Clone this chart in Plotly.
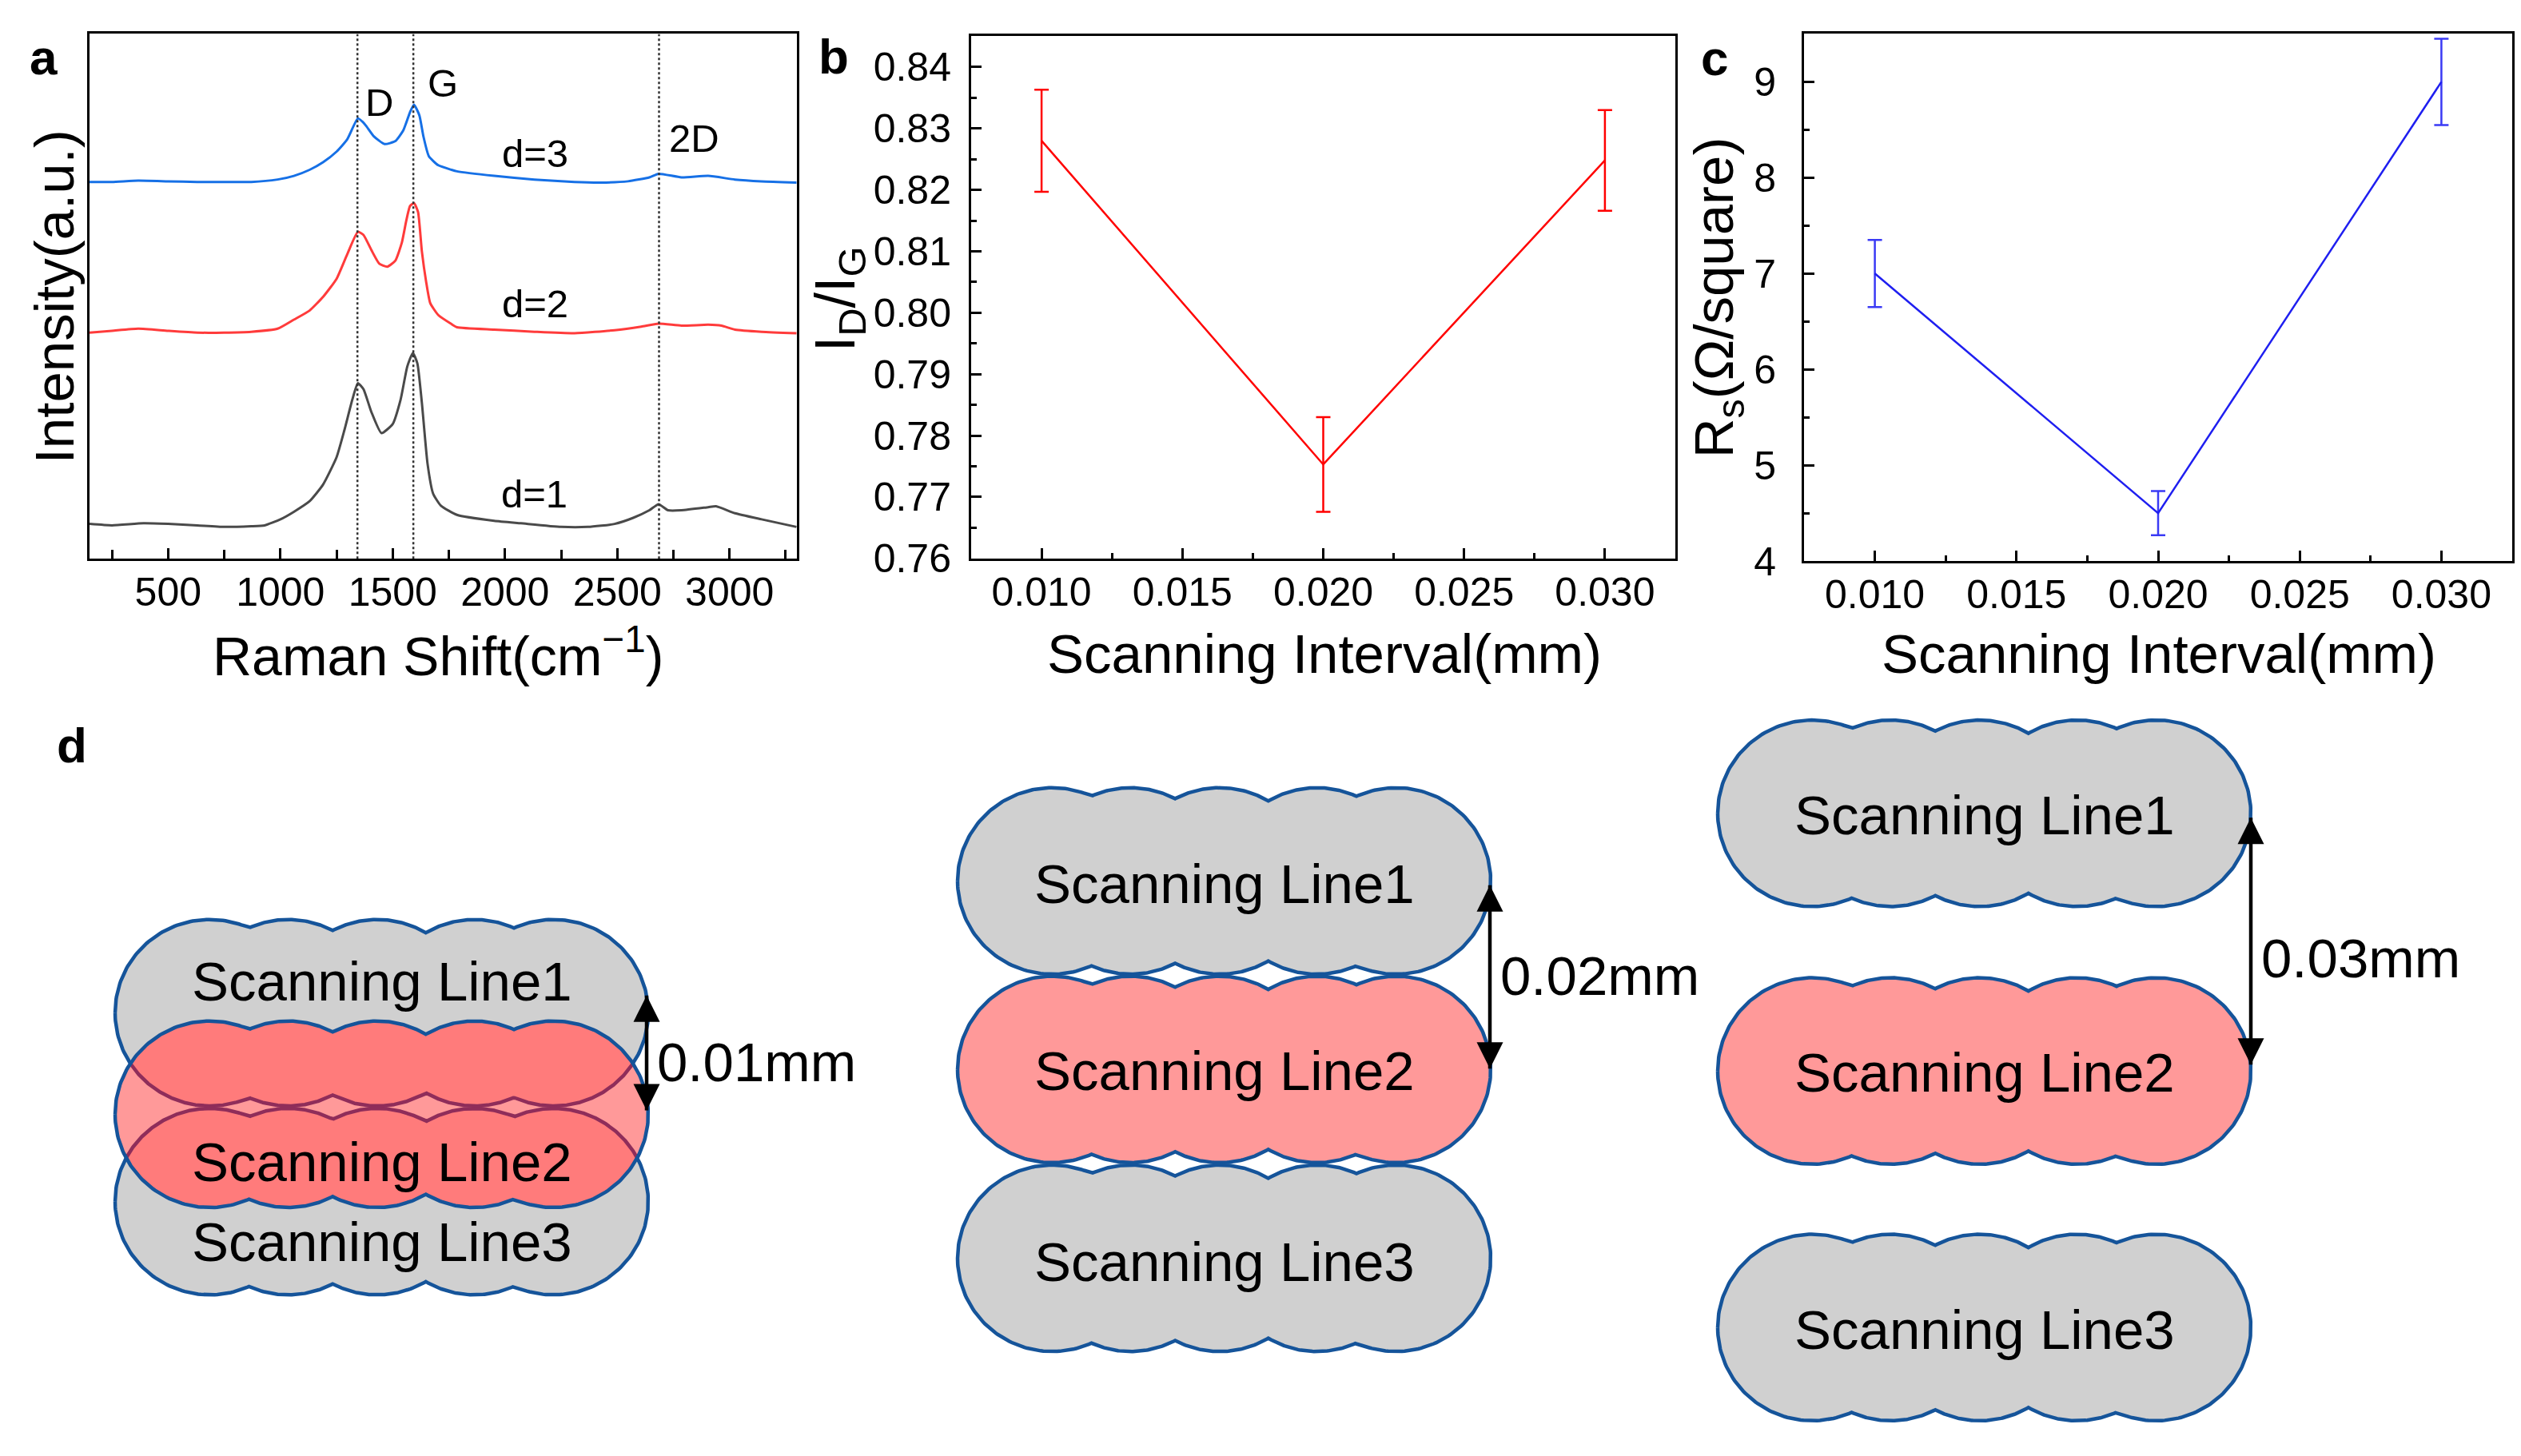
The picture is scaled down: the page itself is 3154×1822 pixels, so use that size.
import numpy as np
import plotly.graph_objects as go

W, H = 3154, 1822
FONT = "Liberation Sans, Arial, Helvetica, sans-serif"

# ---------------- data: panel a (Raman spectra, stacked, a.u.) ----------------
RAMAN_X_D1 = [150, 250, 390, 500, 630, 750, 870, 930, 1000, 1060, 1130, 1190, 1250, 1285,
              1320, 1345, 1370, 1405, 1450, 1500, 1535, 1565, 1590, 1610, 1630, 1655, 1680,
              1715, 1786, 1952, 2071, 2250, 2369, 2488, 2571, 2643, 2684, 2726, 2786, 2905,
              2940, 3024, 3143, 3298]
RAMAN_Y_D1 = [6.64, 6.36, 6.76, 6.64, 6.36, 6.07, 6.20, 6.36, 7.51, 8.95, 10.97, 14.14, 19.33,
              24.51, 30.28, 33.46, 32.31, 27.98, 23.94, 25.67, 30.28, 36.63, 39.22, 37.21,
              29.71, 18.17, 12.41, 10.10, 8.37, 7.23, 6.76, 6.07, 6.07, 6.64, 7.80, 9.24,
              10.39, 9.24, 9.24, 9.82, 9.99, 8.67, 7.51, 6.07]

RAMAN_X_D2 = [150, 250, 367, 500, 630, 750, 870, 988, 1060, 1130, 1190, 1250, 1297, 1345,
              1370, 1405, 1440, 1476, 1512, 1541, 1560, 1577, 1595, 1613, 1630, 1649, 1667,
              1703, 1762, 1786, 1952, 2131, 2310, 2488, 2607, 2684, 2786, 2905, 2964, 3024,
              3143, 3298]
RAMAN_Y_D2 = [43.09, 43.43, 43.84, 43.43, 43.09, 43.09, 43.25, 43.84, 45.56, 47.30, 49.90,
              53.34, 57.96, 62.29, 61.71, 58.83, 56.24, 55.65, 56.81, 60.27, 64.30, 67.20,
              67.77, 66.04, 58.55, 52.77, 48.74, 46.43, 44.71, 44.12, 43.66, 43.25, 42.97,
              43.55, 44.24, 44.81, 44.41, 44.59, 44.41, 43.66, 43.25, 42.97]

RAMAN_X_D3 = [150, 250, 367, 500, 630, 750, 870, 988, 1060, 1130, 1190, 1250, 1297, 1345,
              1364, 1382, 1417, 1464, 1512, 1547, 1577, 1595, 1619, 1637, 1661, 1703, 1762,
              1786, 1952, 2131, 2310, 2429, 2548, 2643, 2684, 2786, 2905, 3024, 3143, 3298]
RAMAN_Y_D3 = [71.80, 71.80, 72.04, 71.92, 71.80, 71.80, 71.80, 72.26, 72.95, 74.11, 75.55,
              77.57, 79.88, 83.91, 83.33, 82.47, 80.45, 79.01, 79.58, 81.60, 85.07, 86.51,
              84.48, 80.45, 76.70, 74.98, 74.11, 73.82, 72.95, 72.26, 71.80, 71.69, 71.92,
              72.67, 73.36, 72.67, 72.95, 72.26, 71.92, 71.69]

CURVE_COLORS = ["#4a4a4a", "#ff3b3b", "#1670e6"]
PEAK_POSITIONS = [1343, 1592, 2686]
PEAK_LABELS = ["D", "G", "2D"]
CURVE_LABELS = ["d=1", "d=2", "d=3"]

# ---------------- data: panels b and c ----------------
INTERVAL_MM = [0.010, 0.020, 0.030]
ID_IG = [0.828, 0.7753, 0.8248]
ID_IG_ERR = [0.0083, 0.0077, 0.0082]
RS = [7.0, 4.5, 9.0]
RS_ERR = [0.35, 0.23, 0.45]

# ---------------- data: panel d (schematic) ----------------
SPACING_LABELS = ["0.01mm", "0.02mm", "0.03mm"]
LINE_NAMES = ["Scanning Line1", "Scanning Line2", "Scanning Line3"]

# ---------------- layout constants (pixels) ----------------
BOX_A = (104, 989, 35, 702)      # left, right, top, bottom
BOX_B = (1207, 2088, 38, 702)
BOX_C = (2249, 3135, 35, 705)


def dx(p):
    return p / W


def dy(p):
    return 1 - p / H


fig = go.Figure()

# ---- panel a traces ----
for xs, ys, col in zip([RAMAN_X_D1, RAMAN_X_D2, RAMAN_X_D3],
                       [RAMAN_Y_D1, RAMAN_Y_D2, RAMAN_Y_D3], CURVE_COLORS):
    fig.add_trace(go.Scatter(x=xs, y=ys, mode="lines", xaxis="x", yaxis="y",
                             line=dict(color=col, width=3, shape="spline", smoothing=0.5),
                             showlegend=False, hoverinfo="skip"))

# ---- panel b ----
fig.add_trace(go.Scatter(x=INTERVAL_MM, y=ID_IG, mode="lines", xaxis="x2", yaxis="y2",
                         line=dict(color="#ff0000", width=2.5),
                         error_y=dict(type="data", array=ID_IG_ERR, visible=True,
                                      color="#ff0000", thickness=2.5, width=9),
                         showlegend=False))
# ---- panel c ----
fig.add_trace(go.Scatter(x=INTERVAL_MM, y=RS, mode="lines", xaxis="x3", yaxis="y3",
                         line=dict(color="#1f1ff0", width=2.5),
                         error_y=dict(type="data", array=RS_ERR, visible=True,
                                      color="#3a3af5", thickness=2.5, width=9),
                         showlegend=False))

# ---- panel d clouds ----
CLOUD_R = 118.5
CLOUD_SPAN = 430
CLOUD_FRACS = [0, 0.228, 0.487, 0.77, 1.0]
DIAG_LEFT = [136, 1190, 2141]
DIAG_CY = [[1279, 1408, 1519], [1111.5, 1351, 1591], [1025.5, 1353, 1679]]
TEXT_Y = [[1240, 1469, 1571], [1116, 1353, 1596], [1028, 1355, 1682]]
ARROW_X = [801, 1856, 2808]
ARROW_Y = [[1257, 1403], [1117, 1350], [1031, 1345]]
LABEL_Y = [1342, 1232, 1210]

GRAY_FILL = "#d0d0d0"
PINK_FILL = "#ff9999"
OVERLAP_FILL = "#ff7b7b"
BORDER = "#15549a"
INNER_BORDER = "#8f2d5a"
BW = 4.5


def cloud_centers(x_left):
    return [x_left + CLOUD_R + f * CLOUD_SPAN for f in CLOUD_FRACS]


def cloud_outline(x_left, cy):
    r = CLOUD_R
    centers = cloud_centers(x_left)
    bounds = [centers[0] - r] + [(centers[i] + centers[i + 1]) / 2
                                 for i in range(len(centers) - 1)] + [centers[-1] + r]
    xs, ys = [], []
    for i, c in enumerate(centers):
        tl = np.arccos(np.clip((bounds[i] - c) / r, -1, 1))
        tr = np.arccos(np.clip((bounds[i + 1] - c) / r, -1, 1))
        th = np.linspace(tl, tr, 70)
        xs += list(c + r * np.cos(th))
        ys += list(cy - r * np.sin(th))
    for i in reversed(range(len(centers))):
        c = centers[i]
        tl = np.arccos(np.clip((bounds[i] - c) / r, -1, 1))
        tr = np.arccos(np.clip((bounds[i + 1] - c) / r, -1, 1))
        th = np.linspace(tr, tl, 70)
        xs += list(c + r * np.cos(th))
        ys += list(cy + r * np.sin(th))
    xs.append(xs[0])
    ys.append(ys[0])
    return xs, ys


def half_height(x_left):
    centers = np.array(cloud_centers(x_left))
    xg = np.linspace(centers[0] - CLOUD_R, centers[-1] + CLOUD_R, 2400)
    h = np.sqrt(np.clip(CLOUD_R ** 2 - (xg[:, None] - centers[None, :]) ** 2, 0, None)).max(axis=1)
    return xg, h


def add_cloud(xs, ys, fill, line_w, line_col=BORDER):
    fig.add_trace(go.Scatter(x=xs, y=ys, mode="lines", fill="toself" if fill else None,
                             fillcolor=fill, line=dict(color=line_col, width=line_w),
                             xaxis="x4", yaxis="y4", showlegend=False, hoverinfo="skip"))


for k in range(3):
    xl = DIAG_LEFT[k]
    cy1, cy2, cy3 = DIAG_CY[k]
    # outer lines (gray)
    for cy in (cy1, cy3):
        xs, ys = cloud_outline(xl, cy)
        add_cloud(xs, ys, GRAY_FILL, BW)
    # middle line fill (pink, opaque)
    xs2, ys2 = cloud_outline(xl, cy2)
    add_cloud(xs2, ys2, PINK_FILL, 0, PINK_FILL)
    # overlap regions with the neighbouring lines
    xg, h = half_height(xl)
    for cy_up, cy_lo, edge_is_upper in ((cy1, cy2, True), (cy2, cy3, False)):
        m = 2 * h > (cy_lo - cy_up)
        if m.sum() < 2:
            continue
        xm, hm = xg[m], h[m]
        top = cy_lo - hm
        bot = cy_up + hm
        px = list(xm) + list(xm[::-1]) + [xm[0]]
        pyy = list(top) + list(bot[::-1]) + [top[0]]
        add_cloud(px, pyy, OVERLAP_FILL, 0, OVERLAP_FILL)
        edge = bot if edge_is_upper else top
        fig.add_trace(go.Scatter(x=xm, y=edge, mode="lines",
                                 line=dict(color=INNER_BORDER, width=BW),
                                 xaxis="x4", yaxis="y4", showlegend=False, hoverinfo="skip"))
    # middle line outline on top
    add_cloud(xs2, ys2, None, BW)

    # spacing arrow
    fig.add_trace(go.Scatter(x=[ARROW_X[k], ARROW_X[k]], y=ARROW_Y[k], mode="lines+markers",
                             line=dict(color="black", width=4.5),
                             marker=dict(symbol=["arrow-up", "arrow-down"], size=33,
                                         color="black", line=dict(width=0)),
                             xaxis="x4", yaxis="y4", showlegend=False, hoverinfo="skip"))

annotations = []


def ann(text, x, y, size, xref="paper", yref="paper", angle=0, xanchor="center", bold=False):
    annotations.append(dict(text=("<b>%s</b>" % text) if bold else text, x=x, y=y,
                            xref=xref, yref=yref, showarrow=False, textangle=angle,
                            xanchor=xanchor, yanchor="middle",
                            font=dict(family=FONT, size=size, color="black")))


# panel letters
ann("a", dx(46), dy(64), 62, bold=True)
ann("b", dx(1035), dy(63), 62, bold=True)
ann("c", dx(2137), dy(65), 62, bold=True)
ann("d", dx(82), dy(939), 62, bold=True)

# axis titles
ann("Raman Shift(cm<sup>\u22121</sup>)", dx(540), dy(821), 68)
ann("Intensity(a.u.)", dx(60), dy(369), 69, angle=-90)
ann("Scanning Interval(mm)", dx(1649), dy(823), 69)
ann("I<sub>D</sub>/I<sub>G</sub>", dx(1042), dy(372), 70, angle=-90)
ann("Scanning Interval(mm)", dx(2693), dy(823), 69)
ann("R<sub>s</sub>(\u03a9/square)", dx(2141), dy(370), 69, angle=-90)

# panel a labels (data coords)
PEAK_LABEL_POS = [(1442, 87.0), (1723, 90.7), (2842, 80.2)]
for lab, (px, py) in zip(PEAK_LABELS, PEAK_LABEL_POS):
    ann(lab, px, py, 49, xref="x", yref="y")
CURVE_LABEL_POS = [(2132, 12.4), (2135, 48.6), (2135, 77.2)]
for lab, (px, py) in zip(CURVE_LABELS, CURVE_LABEL_POS):
    ann(lab, px, py, 49, xref="x", yref="y")

# panel d texts
for k in range(3):
    cx = DIAG_LEFT[k] + (CLOUD_SPAN + 2 * CLOUD_R) / 2
    for j in range(3):
        ann(LINE_NAMES[j], cx, TEXT_Y[k][j], 69, xref="x4", yref="y4")
    ann(SPACING_LABELS[k], ARROW_X[k] + 11, LABEL_Y[k], 69, xref="x4", yref="y4", xanchor="left")

# dotted peak lines
shapes = []
for p in PEAK_POSITIONS:
    shapes.append(dict(type="line", xref="x", yref="y", x0=p, x1=p, y0=0, y1=100,
                       line=dict(color="#333333", width=2.5, dash="dot")))

axis_common = dict(showline=True, linecolor="black", linewidth=3, mirror=True,
                   ticks="inside", tickcolor="black", tickwidth=2.5, ticklen=13,
                   tickfont=dict(family=FONT, size=50, color="black"),
                   showgrid=False, zeroline=False)
minor_common = dict(ticks="inside", ticklen=7, tickwidth=2.5, tickcolor="black", showgrid=False)

fig.update_layout(
    width=W, height=H, margin=dict(l=0, r=0, t=0, b=0),
    paper_bgcolor="white", plot_bgcolor="rgba(0,0,0,0)",
    font=dict(family=FONT, color="black"),
    showlegend=False,
    xaxis=dict(axis_common, domain=[dx(BOX_A[0]), dx(BOX_A[1])], range=[150, 3300],
               tick0=0, dtick=500, anchor="y", ticklabelstandoff=-4,
               minor=dict(minor_common, dtick=250, ticklen=11)),
    yaxis=dict(axis_common, domain=[dy(BOX_A[3]), dy(BOX_A[2])], range=[0, 100],
               showticklabels=False, ticks="", anchor="x"),
    xaxis2=dict(axis_common, domain=[dx(BOX_B[0]), dx(BOX_B[1])], range=[0.0075, 0.0325],
                tick0=0.01, dtick=0.005, tickformat=".3f", anchor="y2", ticklabelstandoff=-4,
                minor=dict(minor_common, dtick=0.0025)),
    yaxis2=dict(axis_common, domain=[dy(BOX_B[3]), dy(BOX_B[2])], range=[0.75995, 0.845],
                tick0=0.76, dtick=0.01, tickformat=".2f", anchor="x2", ticklabelstandoff=12,
                minor=dict(minor_common, dtick=0.005)),
    xaxis3=dict(axis_common, domain=[dx(BOX_C[0]), dx(BOX_C[1])], range=[0.0075, 0.0325],
                tick0=0.01, dtick=0.005, tickformat=".3f", anchor="y3", ticklabelstandoff=-4,
                minor=dict(minor_common, dtick=0.0025)),
    yaxis3=dict(axis_common, domain=[dy(BOX_C[3]), dy(BOX_C[2])], range=[3.999, 9.5],
                tick0=4, dtick=1, anchor="x3", ticklabelstandoff=22,
                minor=dict(minor_common, dtick=0.5)),
    xaxis4=dict(domain=[0, 1], range=[0, W], visible=False, anchor="y4", fixedrange=True),
    yaxis4=dict(domain=[0, dy(880)], range=[H, 880], visible=False, anchor="x4", fixedrange=True),
    annotations=annotations,
    shapes=shapes,
)

fig.write_html("out.html")
